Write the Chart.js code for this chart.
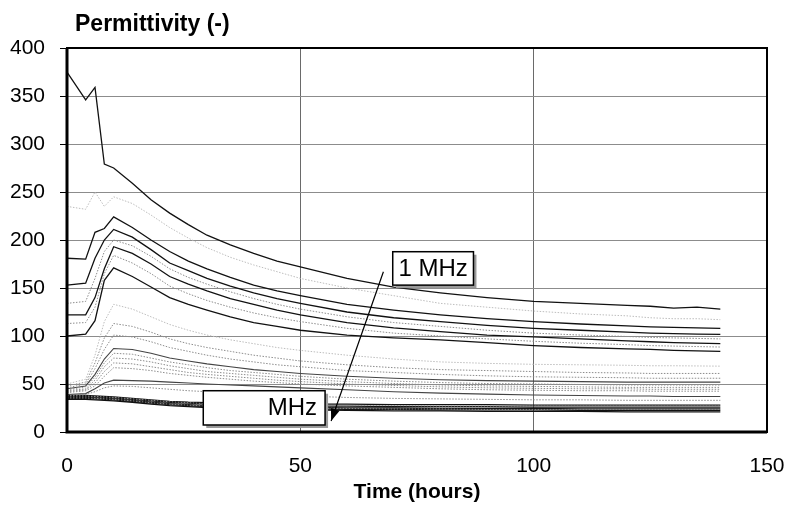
<!DOCTYPE html>
<html>
<head>
<meta charset="utf-8">
<script src="https://cdn.jsdelivr.net/npm/chart.js@4/dist/chart.umd.min.js"></script>
<style>
  body { margin: 0; background: #fff; }
</style>
</head>
<body>
<canvas id="permChart" width="791" height="507"></canvas>
<script>
// Time of each measurement (hours)
const times = [0, 4, 6, 8, 10, 14, 18, 22, 26, 30, 35, 40, 45, 50, 60, 70, 80, 90, 100, 110, 120, 125, 130, 135, 140];

const xTicks = [0, 50, 100, 150];
const yTicks = [0, 50, 100, 150, 200, 250, 300, 350, 400];

// Upper group (low frequencies)
const d1 = [375, 346, 359, 279, 275, 259, 242, 228, 216, 205, 195, 186, 178, 172, 160, 151, 145, 140, 136, 134, 132, 131, 129, 130, 128];
const g1 = [235, 232, 250, 235, 245, 238, 226, 213, 202, 192, 182, 174, 167, 160, 150, 142, 134, 130, 126, 123, 121, 119, 118, 118, 117];
const d2 = [181, 180, 208, 212, 224, 213, 200, 188, 178, 170, 161, 153, 147, 142, 133, 127, 122, 118, 115, 112.5, 110.5, 109.5, 109, 108.5, 108];
const d3 = [153, 155, 181, 200, 211, 203, 190, 176, 168, 160, 152, 145, 139, 134, 125, 119, 115, 111, 108, 106, 104, 103, 102.5, 102, 101.7];
const g2 = [134, 136, 160, 188, 200, 194, 183, 170, 161, 154, 146, 139, 133, 128, 120, 114, 110, 106, 103, 101, 99.5, 98.5, 98, 97.5, 97];
const d4 = [122, 122, 140, 170, 193, 186, 175, 162, 154, 147, 139, 133, 127, 122, 114, 108.5, 104.5, 101, 99, 97, 95, 94, 93, 92.5, 92];
const g3 = [113, 114, 130, 165, 184, 176, 165, 152, 144, 137, 130, 124, 119, 115, 108, 103, 100, 97, 94.5, 92.5, 91, 90, 89.5, 89, 88.5];
const d5 = [100, 102, 116, 158, 171, 162, 151, 140, 133, 127, 120, 114, 110, 106, 101, 98, 96, 93, 90, 88, 86.5, 86, 85, 84.5, 84];

// Middle group
const l1 = [50, 55, 80, 115, 133, 128, 120, 112, 106, 101, 96, 92, 88, 85, 80, 76, 73, 71.5, 70.5, 70, 69.5, 69, 69, 68.8, 68.6];
const l2 = [48, 52, 72, 98, 113, 110, 104, 97, 92, 88, 84, 80, 77, 74, 70, 67, 65, 64, 63, 62, 61.5, 61, 61, 61, 61];
const l3 = [46, 50, 66, 86, 101, 99, 94, 88, 84, 80, 76, 73, 70, 68, 64, 62, 60, 58.5, 57.5, 57, 56.5, 56, 56, 56, 56];
const l4 = [45, 48, 60, 76, 87, 86, 82, 77, 74, 71, 68, 65, 63, 61, 58, 56, 54.5, 53.5, 53, 52.5, 52, 52, 52, 52, 52];
const l5 = [44, 47, 57, 72, 82, 81, 77, 73, 70, 67, 64, 62, 60, 58, 55, 53, 51.5, 50.5, 50, 49.5, 49, 49, 49, 49, 49];
const l6 = [43, 45, 54, 68, 77, 76, 73, 69, 66, 63, 61, 59, 57, 55, 52.5, 50.5, 49, 48, 47.5, 47, 46.5, 46.5, 46.5, 46.5, 46.5];
const l7 = [42, 44, 51, 63, 72, 71, 68, 65, 62, 60, 58, 56, 54, 52.5, 50, 48.5, 47, 46, 45.5, 45, 45, 44.5, 44.5, 44.5, 44.5];
const l8 = [41, 43, 48, 58, 67, 66, 64, 61, 59, 57, 55, 53, 51.5, 50, 48, 46.5, 45, 44, 43.5, 43, 43, 42.5, 42.5, 42.5, 42.5];
const l9 = [39, 40, 45, 51, 54, 53.5, 53, 52, 51, 50, 49, 48, 47, 46, 44, 42, 40.5, 39.5, 38.5, 38, 37.5, 37.5, 37, 37, 37];
const l10 = [38, 39, 42, 46, 48, 47.5, 46, 44.5, 43, 42, 40.5, 39.5, 38.5, 37.5, 36, 35, 34.5, 34, 33.5, 33.5, 33, 33, 33, 33, 33];

// Bottom bundle (high frequencies)
const b1 = [38, 38, 37.5, 37, 36.5, 35, 33.5, 32, 31, 30.5, 30, 29.5, 29.5, 29, 29, 28.5, 28.5, 28.5, 28, 28, 28, 28, 28, 28, 28];
const b6 = [37.5, 37.5, 37, 36.5, 36, 34.5, 33, 31.5, 30.5, 29.5, 29, 28.5, 28, 28, 27.5, 27.5, 27, 27, 27, 27, 27, 27, 27, 27, 27];
const b2 = [37, 37, 36.5, 36, 35.5, 34, 32.5, 31, 30, 29, 28.5, 28, 27.5, 27, 27, 26.5, 26.5, 26.5, 26, 26, 26, 26, 26, 26, 26];
const b3 = [36, 36, 35.5, 35, 34.5, 33, 31, 29.5, 28.5, 27.5, 27, 26.5, 26, 25.5, 25, 25, 24.5, 24.5, 24.5, 24, 24, 24, 24, 24, 24];
const b7 = [35.5, 35.5, 35, 34.5, 34, 32.5, 30.5, 29, 28, 27, 26, 25.5, 25, 25, 24.5, 24, 24, 23.5, 23.5, 23.5, 23.5, 23.5, 23.5, 23.5, 23.5];
const b4 = [35, 35, 34.5, 34, 33.5, 32, 30, 28.5, 27.5, 26.5, 25.5, 25, 24.5, 24, 23.5, 23.5, 23, 23, 23, 22.5, 22.5, 22.5, 22.5, 22.5, 22.5];
const b5 = [34, 34, 33.5, 33, 32.5, 31, 29, 27.5, 26.5, 25.5, 24.5, 24, 23.5, 23, 22.5, 22, 22, 21.5, 21.5, 21.5, 21, 21, 21, 21, 21];

// Which series is drawn how
const series = [
    { v: l1, kind: 'light' }, { v: g1, kind: 'light' },
    { v: l2, kind: 'dot' }, { v: l3, kind: 'dot' }, { v: l5, kind: 'dot' }, { v: l6, kind: 'dot' },
    { v: l7, kind: 'dot' }, { v: l8, kind: 'dot' }, { v: l10, kind: 'dot' },
    { v: g2, kind: 'dot' }, { v: g3, kind: 'dot' }, { v: b6, kind: 'dot' }, { v: b7, kind: 'dot' },
    { v: l4, kind: 'grey' }, { v: l9, kind: 'grey' },
    { v: b1, kind: 'dark' }, { v: b2, kind: 'dark' }, { v: b3, kind: 'dark' }, { v: b4, kind: 'dark' }, { v: b5, kind: 'dark' },
    { v: d5, kind: 'dark' }, { v: d4, kind: 'dark' }, { v: d3, kind: 'dark' }, { v: d2, kind: 'dark' }, { v: d1, kind: 'dark' }
];

const looks = {
    dark:  { borderColor: '#111', borderWidth: 1.3, borderDash: [] },
    grey:  { borderColor: '#444', borderWidth: 1.1, borderDash: [] },
    dot:   { borderColor: '#8c8c8c', borderWidth: 1, borderDash: [1.5, 1.5] },
    light: { borderColor: '#bdbdbd', borderWidth: 1, borderDash: [1.5, 1.5] }
};

// Text boxes on the plot, in data units
const notes = [
    { text: '1 MHz', x0: 69.8, x1: 87.1, y0: 187.8, y1: 153, align: 'center' },
    { text: 'MHz', x0: 29.2, x1: 55.3, y0: 43, y1: 7.3, align: 'right' }
];
const arrow = { from: [67.8, 167], to: [56.6, 11.5] };

const FONT = "'Liberation Sans', Arial, Helvetica, sans-serif";

const overlay = {
    id: 'overlay',
    afterDatasetsDraw(chart) {
        const { ctx, chartArea: a, scales: { x, y } } = chart;
        ctx.save();

        // frame round the plot
        ctx.strokeStyle = '#000';
        ctx.lineWidth = 2;
        ctx.strokeRect(a.left, a.top, a.right - a.left, a.bottom - a.top);
        ctx.lineWidth = 3;
        ctx.beginPath();
        ctx.moveTo(a.left, a.top);
        ctx.lineTo(a.left, a.bottom);
        ctx.lineTo(a.right, a.bottom);
        ctx.stroke();

        // label boxes with a grey shadow
        notes.forEach(n => {
            const l = x.getPixelForValue(n.x0), r = x.getPixelForValue(n.x1);
            const t = y.getPixelForValue(n.y0), b = y.getPixelForValue(n.y1);
            ctx.fillStyle = '#9a9a9a';
            ctx.fillRect(l + 3, t + 3, r - l, b - t);
            ctx.fillStyle = '#fff';
            ctx.fillRect(l, t, r - l, b - t);
            ctx.strokeStyle = '#000';
            ctx.lineWidth = 1.5;
            ctx.strokeRect(l, t, r - l, b - t);
            ctx.fillStyle = '#000';
            ctx.font = '24px ' + FONT;
            ctx.textBaseline = 'middle';
            ctx.textAlign = n.align;
            const tx = n.align === 'center' ? (l + r) / 2 : r - 8;
            ctx.fillText(n.text, tx, (t + b) / 2 + 1);
        });

        // arrow
        const x1 = x.getPixelForValue(arrow.from[0]), y1 = y.getPixelForValue(arrow.from[1]);
        const x2 = x.getPixelForValue(arrow.to[0]), y2 = y.getPixelForValue(arrow.to[1]);
        const ang = Math.atan2(y2 - y1, x2 - x1);
        ctx.strokeStyle = '#000';
        ctx.lineWidth = 1.2;
        ctx.beginPath();
        ctx.moveTo(x1, y1);
        ctx.lineTo(x2, y2);
        ctx.stroke();
        ctx.fillStyle = '#000';
        ctx.beginPath();
        ctx.moveTo(x2, y2);
        ctx.lineTo(x2 - 13 * Math.cos(ang - 0.35), y2 - 13 * Math.sin(ang - 0.35));
        ctx.lineTo(x2 - 13 * Math.cos(ang + 0.35), y2 - 13 * Math.sin(ang + 0.35));
        ctx.closePath();
        ctx.fill();
        ctx.restore();
    },
    afterDraw(chart) {
        const ctx = chart.ctx;
        ctx.save();
        ctx.fillStyle = '#000';
        ctx.font = 'bold 23px ' + FONT;
        ctx.textAlign = 'left';
        ctx.textBaseline = 'alphabetic';
        ctx.fillText('Permittivity (-)', 75, 31);
        ctx.restore();
    }
};

new Chart(document.getElementById('permChart'), {
    type: 'line',
    data: {
        datasets: series.map(s => Object.assign({
            data: times.map((t, i) => ({ x: t, y: s.v[i] })),
            pointRadius: 0,
            tension: 0,
            fill: false
        }, looks[s.kind]))
    },
    options: {
        responsive: false,
        animation: false,
        layout: { padding: { top: 48, right: 24, left: 0, bottom: 0 } },
        plugins: {
            legend: { display: false },
            tooltip: { enabled: false }
        },
        scales: {
            x: {
                type: 'linear',
                min: 0,
                max: 150,
                afterFit: s => { s.height = 75; s.paddingLeft = 0; s.paddingRight = 0; },
                afterBuildTicks: s => { s.ticks = xTicks.map(v => ({ value: v })); },
                grid: { color: '#6a6a6a', lineWidth: 1, drawTicks: false },
                border: { display: false },
                ticks: { color: '#000', padding: 22, font: { family: FONT, size: 21 } },
                title: {
                    display: true,
                    text: 'Time (hours)',
                    color: '#000',
                    font: { family: FONT, size: 21, weight: 'bold' },
                    padding: { top: 0, bottom: 2 }
                }
            },
            y: {
                min: 0,
                max: 400,
                afterFit: s => { s.width = 67; },
                afterBuildTicks: s => { s.ticks = yTicks.map(v => ({ value: v })); },
                grid: { color: '#8c8c8c', lineWidth: 1, tickColor: '#000', tickLength: 7 },
                border: { display: false },
                ticks: { color: '#000', padding: 15, font: { family: FONT, size: 21 } }
            }
        }
    },
    plugins: [overlay]
});
</script>
</body>
</html>
